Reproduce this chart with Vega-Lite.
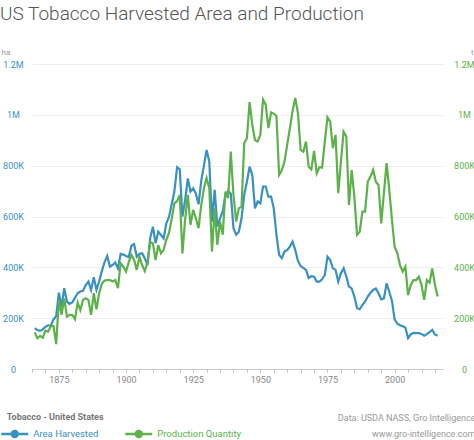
{
"$schema": "https://vega.github.io/schema/vega-lite/v6.json",
"width": 411, "height": 305,
"autosize": {"type": "none"},
"padding": {"left": 32, "top": 64, "right": 31, "bottom": 71},
"background": "white",
"config": {"view": {"stroke": null}, "font": "Roboto"},
"title": {"text": "US Tobacco Harvested Area and Production", "anchor": "start", "frame": "group", "dx": -32, "dy": -2, "fontSize": 19, "font": "Roboto", "fontWeight": 300, "color": "#555555", "offset": 22},
"data": {"values": [
{"year":1866,"area":161000,"production":144000},{"year":1867,"area":153000,"production":121000},{"year":1868,"area":150000,"production":130000},{"year":1869,"area":156000,"production":123000},{"year":1870,"area":166000,"production":151000},{"year":1871,"area":172000,"production":147000},{"year":1872,"area":170000,"production":169000},{"year":1873,"area":195000,"production":169000},{"year":1874,"area":208000,"production":98000},{"year":1875,"area":300000,"production":272000},
{"year":1876,"area":245000,"production":213000},{"year":1877,"area":318000,"production":278000},{"year":1878,"area":265000,"production":206000},{"year":1879,"area":256000,"production":213000},{"year":1880,"area":262000,"production":213000},{"year":1881,"area":280000,"production":196000},{"year":1882,"area":298000,"production":261000},{"year":1883,"area":305000,"production":232000},{"year":1884,"area":308000,"production":272000},{"year":1885,"area":330000,"production":278000},
{"year":1886,"area":344000,"production":272000},{"year":1887,"area":311000,"production":213000},{"year":1888,"area":361000,"production":298000},{"year":1889,"area":311000,"production":235000},{"year":1890,"area":345000,"production":298000},{"year":1891,"area":385000,"production":335000},{"year":1892,"area":420000,"production":348000},{"year":1893,"area":445000,"production":350000},{"year":1894,"area":403000,"production":350000},{"year":1895,"area":409000,"production":344000},
{"year":1896,"area":419000,"production":350000},{"year":1897,"area":396000,"production":318000},{"year":1898,"area":453000,"production":416000},{"year":1899,"area":450000,"production":403000},{"year":1900,"area":445000,"production":383000},{"year":1901,"area":440000,"production":420000},{"year":1902,"area":485000,"production":449000},{"year":1903,"area":492000,"production":430000},{"year":1904,"area":442000,"production":390000},{"year":1905,"area":453000,"production":442000},
{"year":1906,"area":455000,"production":409000},{"year":1907,"area":435000,"production":385000},{"year":1908,"area":409000,"production":420000},{"year":1909,"area":515000,"production":500000},{"year":1910,"area":560000,"production":495000},{"year":1911,"area":495000,"production":429000},{"year":1912,"area":540000,"production":488000},{"year":1913,"area":527000,"production":455000},{"year":1914,"area":514000,"production":469000},{"year":1915,"area":573000,"production":508000},
{"year":1916,"area":598000,"production":535000},{"year":1917,"area":648000,"production":590000},{"year":1918,"area":698000,"production":652000},{"year":1919,"area":794000,"production":660000},{"year":1920,"area":786000,"production":685000},{"year":1921,"area":600000,"production":455000},{"year":1922,"area":665000,"production":587000},{"year":1923,"area":750000,"production":685000},{"year":1924,"area":698000,"production":567000},{"year":1925,"area":711000,"production":626000},
{"year":1926,"area":690000,"production":593000},{"year":1927,"area":648000,"production":554000},{"year":1928,"area":740000,"production":645000},{"year":1929,"area":800000,"production":711000},{"year":1930,"area":862000,"production":751000},{"year":1931,"area":815000,"production":711000},{"year":1932,"area":580000,"production":462000},{"year":1933,"area":705000,"production":632000},{"year":1934,"area":560000,"production":488000},{"year":1935,"area":593000,"production":580000},
{"year":1936,"area":620000,"production":528000},{"year":1937,"area":685000,"production":698000},{"year":1938,"area":700000,"production":672000},{"year":1939,"area":690000,"production":855000},{"year":1940,"area":554000,"production":685000},{"year":1941,"area":528000,"production":580000},{"year":1942,"area":540000,"production":632000},{"year":1943,"area":593000,"production":639000},{"year":1944,"area":685000,"production":888000},{"year":1945,"area":737000,"production":908000},
{"year":1946,"area":796000,"production":1050000},{"year":1947,"area":764000,"production":961000},{"year":1948,"area":632000,"production":901000},{"year":1949,"area":659000,"production":895000},{"year":1950,"area":652000,"production":921000},{"year":1951,"area":718000,"production":1060000},{"year":1952,"area":718000,"production":1040000},{"year":1953,"area":678000,"production":948000},{"year":1954,"area":678000,"production":1010000},{"year":1955,"area":632000,"production":1005000},
{"year":1956,"area":528000,"production":995000},{"year":1957,"area":449000,"production":764000},{"year":1958,"area":436000,"production":783000},{"year":1959,"area":462000,"production":816000},{"year":1960,"area":468000,"production":882000},{"year":1961,"area":481000,"production":948000},{"year":1962,"area":501000,"production":1015000},{"year":1963,"area":468000,"production":1066000},{"year":1964,"area":425000,"production":1007000},{"year":1965,"area":405000,"production":862000},
{"year":1966,"area":398000,"production":855000},{"year":1967,"area":390000,"production":895000},{"year":1968,"area":358000,"production":796000},{"year":1969,"area":365000,"production":785000},{"year":1970,"area":363000,"production":858000},{"year":1971,"area":344000,"production":770000},{"year":1972,"area":344000,"production":794000},{"year":1973,"area":353000,"production":792000},{"year":1974,"area":370000,"production":895000},{"year":1975,"area":442000,"production":990000},
{"year":1976,"area":429000,"production":973000},{"year":1977,"area":396000,"production":869000},{"year":1978,"area":390000,"production":921000},{"year":1979,"area":344000,"production":692000},{"year":1980,"area":377000,"production":816000},{"year":1981,"area":396000,"production":934000},{"year":1982,"area":364000,"production":915000},{"year":1983,"area":324000,"production":645000},{"year":1984,"area":317000,"production":783000},{"year":1985,"area":285000,"production":678000},
{"year":1986,"area":239000,"production":528000},{"year":1987,"area":235000,"production":540000},{"year":1988,"area":252000,"production":619000},{"year":1989,"area":265000,"production":619000},{"year":1990,"area":285000,"production":737000},{"year":1991,"area":300000,"production":757000},{"year":1992,"area":311000,"production":783000},{"year":1993,"area":317000,"production":737000},{"year":1994,"area":298000,"production":724000},{"year":1995,"area":274000,"production":573000},
{"year":1996,"area":278000,"production":692000},{"year":1997,"area":337000,"production":810000},{"year":1998,"area":304000,"production":705000},{"year":1999,"area":268000,"production":587000},{"year":2000,"area":195000,"production":481000},{"year":2001,"area":178000,"production":455000},{"year":2002,"area":172000,"production":409000},{"year":2003,"area":168000,"production":383000},{"year":2004,"area":163000,"production":403000},{"year":2005,"area":121000,"production":291000},
{"year":2006,"area":136000,"production":331000},{"year":2007,"area":142000,"production":350000},{"year":2008,"area":141000,"production":350000},{"year":2009,"area":141000,"production":363000},{"year":2010,"area":138000,"production":331000},{"year":2011,"area":131000,"production":272000},{"year":2012,"area":137000,"production":350000},{"year":2013,"area":145000,"production":340000},{"year":2014,"area":154000,"production":396000},{"year":2015,"area":136000,"production":331000},
{"year":2016,"area":131000,"production":285000}
]},
"encoding": {
  "x": {"field": "year", "type": "quantitative", "scale": {"domain": [1865, 2018], "nice": false, "zero": false},
    "axis": {"values": [1865,1870,1875,1880,1885,1890,1895,1900,1905,1910,1915,1920,1925,1930,1935,1940,1945,1950,1955,1960,1965,1970,1975,1980,1985,1990,1995,2000,2005,2010,2015],
      "labelExpr": "datum.value % 25 === 0 ? datum.label : ''", "format": "d", "grid": false,
      "domainColor": "#cccccc", "tickColor": "#bbbbbb", "tickSize": 3, "labelColor": "#888888", "labelFontSize": 9, "labelFont": "Roboto", "labelPadding": 3,
      "title": ["Data: USDA NASS, Gro Intelligence", "www.gro-intelligence.com"], "titleAnchor": "end", "titleAlign": "right", "titleX": 443, "titleY": 48,
      "titleBaseline": "middle", "titleFontSize": 9, "titleFont": "Roboto", "titleFontWeight": "normal", "titleColor": "#999999", "titleLineHeight": 16}}
},
"layer": [
  {"mark": {"type": "line", "strokeWidth": 2.2},
   "encoding": {
     "y": {"field": "area", "type": "quantitative", "scale": {"domain": [0, 1200000], "nice": false},
       "axis": {"orient": "left", "values": [0,200000,400000,600000,800000,1000000,1200000],
         "labelExpr": "datum.value >= 1000000 ? (datum.value/1000000) + 'M' : datum.value > 0 ? (datum.value/1000) + 'K' : '0'",
         "grid": true, "gridColor": "#eeeeee", "domain": false, "ticks": false, "labelColor": "#3990c3", "labelFontSize": 9, "labelFont": "Roboto",
         "labelAlign": "center", "labelPadding": 19,
         "title": "ha", "titleAngle": 0, "titleAlign": "left", "titleBaseline": "middle", "titleX": -31, "titleY": -12, "titleColor": "#999999", "titleFontSize": 8, "titleFontWeight": "normal", "titleFont": "Roboto"}},
     "color": {"datum": "Area Harvested", "type": "nominal",
       "scale": {"domain": ["Area Harvested", "Production Quantity"], "range": ["#3990c3", "#5cb14a"]},
       "legend": {"orient": "none", "legendX": -25.25, "legendY": 349, "direction": "horizontal", "padding": 0,
         "title": "Tobacco - United States", "titleFontSize": 9, "titleFontWeight": "bold", "titleColor": "#777777", "titleFont": "Roboto", "titlePadding": 4,
         "symbolType": "M-2,0L2,0M-0.44,0A0.44,0.44,0,1,1,0.44,0A0.44,0.44,0,1,1,-0.44,0Z", "symbolSize": 182, "symbolStrokeWidth": 2.5,
         "labelFontSize": 9.5, "labelFont": "Roboto", "labelOffset": 10.5, "columnPadding": 21,
         "encode": {
           "symbols": {"update": {"fill": {"signal": "datum.value === 'Area Harvested' ? '#3990c3' : '#5cb14a'"}, "stroke": {"signal": "datum.value === 'Area Harvested' ? '#3990c3' : '#5cb14a'"}}},
           "labels": {"update": {"fill": {"signal": "datum.value === 'Area Harvested' ? '#3990c3' : '#5cb14a'"}}}
         }}}
   }},
  {"mark": {"type": "line", "strokeWidth": 2.2},
   "encoding": {
     "y": {"field": "production", "type": "quantitative", "scale": {"domain": [0, 1200000], "nice": false},
       "axis": {"orient": "right", "values": [0,200000,400000,600000,800000,1000000,1200000],
         "labelExpr": "datum.value >= 1000000 ? (datum.value/1000000) + 'M' : datum.value > 0 ? (datum.value/1000) + 'K' : '0'",
         "grid": false, "domain": false, "ticks": false, "labelColor": "#5cb14a", "labelFontSize": 9, "labelFont": "Roboto",
         "labelAlign": "center", "labelPadding": 21,
         "title": "t", "titleAngle": 0, "titleAlign": "right", "titleBaseline": "middle", "titleX": 30, "titleY": -12, "titleColor": "#999999", "titleFontSize": 8, "titleFontWeight": "normal", "titleFont": "Roboto"}},
     "color": {"datum": "Production Quantity", "type": "nominal"}
   }}
],
"resolve": {"scale": {"y": "independent"}}
}
